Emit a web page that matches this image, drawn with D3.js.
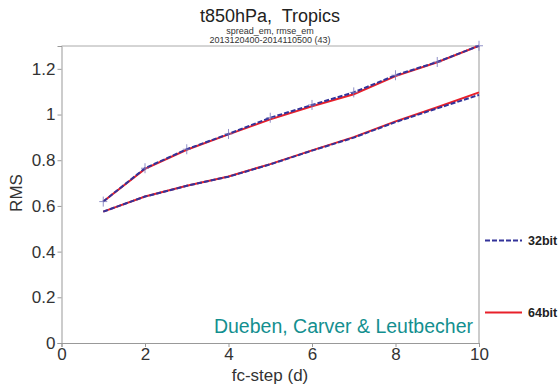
<!DOCTYPE html>
<html><head><meta charset="utf-8">
<script src="https://cdn.jsdelivr.net/npm/d3@7"></script>
<style>body{margin:0;background:#fff;}svg{display:block;font-family:"Liberation Sans",Arial,sans-serif;}</style>
</head><body><svg id="c" width="559" height="384"></svg>
<script>
const steps = [1,2,3,4,5,6,7,8,9,10];
const rmse32 = [0.619,0.765,0.848,0.915,0.986,1.042,1.097,1.172,1.230,1.301];
const rmse64 = [0.619,0.762,0.846,0.913,0.979,1.036,1.089,1.168,1.229,1.301];
const spread32 = [0.575,0.641,0.688,0.728,0.782,0.842,0.899,0.967,1.027,1.086];
const spread64 = [0.575,0.641,0.688,0.729,0.783,0.843,0.901,0.970,1.032,1.097];
const xTicks = [0,2,4,6,8,10];
const yTicks = [0,0.2,0.4,0.6,0.8,1,1.2];
const legendLabels = ["32bit","64bit"];

const svg = d3.select("#c");
const L=61.5, R=479, T=46, B=343;
const x = d3.scaleLinear().domain([0,10]).range([L,R]);
const y = d3.scaleLinear().domain([0,1.3]).range([B,T]);

// frame
svg.append("line").attr("x1",L).attr("x2",R).attr("y1",T).attr("y2",T).attr("stroke","#aaa").attr("stroke-width",1);
svg.append("line").attr("x1",R).attr("x2",R).attr("y1",T).attr("y2",B).attr("stroke","#ccc").attr("stroke-width",2);

const xa = svg.append("g").attr("transform",`translate(0,${B})`)
  .call(d3.axisBottom(x).tickValues(xTicks).tickFormat(d3.format("d")).tickSize(4).tickPadding(1));
const ya = svg.append("g").attr("transform",`translate(${L},0)`)
  .call(d3.axisLeft(y).tickValues(yTicks).tickFormat(d=>String(d)).tickSize(4).tickPadding(2));
[xa,ya].forEach(a=>{
  a.selectAll("path").attr("stroke","#999");
  a.selectAll("line").attr("stroke","#999");
  a.selectAll("text").attr("fill","#333").style("font-size","17px");
});

// title
svg.append("text").attr("x",270).attr("y",22).attr("text-anchor","middle").attr("fill","#222").style("font-size","18px").style("white-space","pre").text("t850hPa,  Tropics");
svg.append("text").attr("x",270).attr("y",34).attr("text-anchor","middle").attr("fill","#333").style("font-size","9px").text("spread_em, rmse_em");
svg.append("text").attr("x",270).attr("y",43).attr("text-anchor","middle").attr("fill","#333").style("font-size","9px").text("2013120400-2014110500 (43)");

svg.append("text").attr("transform","translate(22,193) rotate(-90)").attr("text-anchor","middle").attr("fill","#333").style("font-size","17px").text("RMS");
svg.append("text").attr("x",270).attr("y",381).attr("text-anchor","middle").attr("fill","#333").style("font-size","17px").text("fc-step (d)");

svg.append("text").attr("x",473).attr("y",333).attr("text-anchor","end").attr("fill","#138f8f").style("font-size","19.5px").text("Dueben, Carver & Leutbecher");

const line = d3.line().x((d,i)=>x(steps[i])).y(d=>y(d));
const red="#e8202a", blue="#33339a";
[rmse64,spread64].forEach(s=>svg.append("path").datum(s).attr("d",line).attr("fill","none").attr("stroke",red).attr("stroke-width",2));
[rmse32,spread32].forEach(s=>svg.append("path").datum(s).attr("d",line).attr("fill","none").attr("stroke",blue).attr("stroke-width",2).attr("stroke-dasharray","5,2"));

// markers
svg.append("g").selectAll("path").data(rmse32).join("path")
  .attr("d",(d,i)=>{const cx=x(steps[i]),cy=y(d);return `M${cx-4},${cy}H${cx+4}M${cx},${cy-5}V${cy+5}`;})
  .attr("stroke","#7777bb").attr("stroke-width",1).attr("opacity",0.8);

// legend
const ly=[240.5,312.5];
legendLabels.forEach((lab,i)=>{
  const l=svg.append("line").attr("x1",485).attr("x2",522).attr("y1",ly[i]).attr("y2",ly[i]).attr("stroke-width",2)
   .attr("stroke",i===0?blue:red);
  if(i===0) l.attr("stroke-dasharray","5,2");
  svg.append("text").attr("x",528).attr("y",ly[i]+4.5).attr("fill","#222").style("font-size","12.5px").style("font-weight","bold").text(lab);
});
</script></body></html>
